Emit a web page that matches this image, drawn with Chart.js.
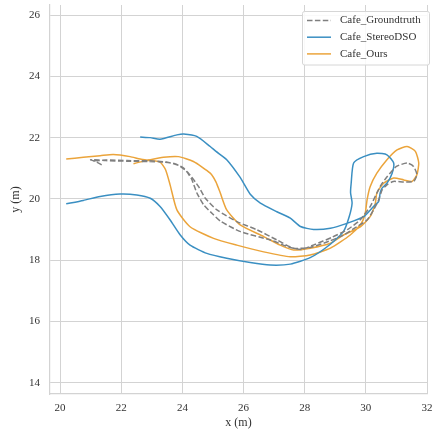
<!DOCTYPE html>
<html>
<head>
<meta charset="utf-8">
<script src="https://cdn.jsdelivr.net/npm/chart.js@4/dist/chart.umd.min.js"></script>
<style>
html,body{margin:0;padding:0;background:#fff;}
canvas{display:block;}
</style>
</head>
<body>
<canvas id="c" width="434" height="437"></canvas>
<script>
const seriesLabels = ["Cafe_Groundtruth", "Cafe_StereoDSO", "Cafe_Ours"];
const xTicks = [20, 22, 24, 26, 28, 30, 32];
const yTicks = [14, 16, 18, 20, 22, 24, 26];

const gtX = [21.36,21.2,21.0,21.5,22.2,22.9,23.4,23.75,24.05,24.3,24.47,24.7,25.0,25.25,25.9,26.9,27.5,27.9,28.3,28.9,29.4,29.8,30.14,30.36,30.5,30.7,31.0,31.35,31.56,31.67,31.56,31.24,30.9,30.69,30.53,30.42,30.25,30.04,29.7,29.27,28.8,28.2,27.64,27.09,26.44,25.78,25.13,24.75,24.53,24.2,23.9,23.5,22.9,22.2,21.5,21.1];
const gtY = [21.11,21.2,21.28,21.25,21.23,21.22,21.2,21.15,21.0,20.65,20.2,19.8,19.5,19.27,18.93,18.65,18.42,18.35,18.5,18.75,19.0,19.3,19.75,20.19,20.46,20.73,21.06,21.17,21.06,20.79,20.57,20.55,20.57,20.46,20.29,19.97,19.64,19.31,19.09,18.82,18.62,18.42,18.39,18.66,18.99,19.26,19.64,20.02,20.4,20.84,21.08,21.2,21.24,21.25,21.27,21.24];

const dsoX = [20.2,20.76,21.31,21.96,22.51,22.95,23.27,23.6,23.93,24.25,24.8,25.45,26.22,26.87,27.53,28.18,28.84,29.27,29.45,29.55,29.5,29.52,29.6,29.93,30.36,30.69,30.91,30.86,30.69,30.53,30.47,30.42,30.25,29.93,29.38,28.84,28.29,27.86,27.53,27.09,26.55,26.22,25.89,25.45,25.1,24.91,24.47,24.04,23.82,23.27,22.95,22.62];
const dsoY = [19.84,19.95,20.08,20.16,20.13,20.02,19.75,19.31,18.82,18.49,18.22,18.06,17.92,17.84,17.87,18.08,18.52,18.94,19.4,19.86,20.2,20.51,21.17,21.38,21.49,21.44,21.17,20.84,20.51,20.35,20.2,19.92,19.75,19.42,19.2,19.04,19.0,19.1,19.37,19.58,19.86,20.15,20.7,21.28,21.55,21.71,22.04,22.12,22.09,21.95,22.0,22.02];

const oursX = [20.2,20.76,21.31,21.74,22.29,22.62,22.95,23.27,23.45,23.6,23.82,24.25,25.02,25.78,26.66,27.53,28.18,28.84,29.49,29.85,29.98,30.04,30.14,30.36,30.69,31.02,31.35,31.62,31.73,31.67,31.51,31.24,30.91,30.58,30.36,30.31,30.14,29.82,29.27,28.84,28.18,27.64,27.2,26.66,25.89,25.45,25.24,25.1,24.91,24.36,23.87,23.38,22.95,22.6,22.4];
const oursY = [21.3,21.36,21.41,21.45,21.38,21.3,21.25,21.2,20.95,20.45,19.64,19.09,18.71,18.49,18.27,18.11,18.17,18.39,18.82,19.2,19.53,19.97,20.4,20.84,21.28,21.6,21.71,21.55,21.17,20.79,20.57,20.62,20.68,20.51,20.19,19.86,19.42,19.09,18.82,18.55,18.39,18.33,18.49,18.77,19.15,19.64,20.19,20.55,20.84,21.22,21.38,21.36,21.28,21.2,21.15];

const toPts = (xs, ys) => xs.map((x, i) => ({x: x, y: ys[i]}));
const SERIF = "'Liberation Serif', 'Times New Roman', serif";

const insideLegend = {
  id: 'insideLegend',
  afterDraw(chart) {
    const ctx = chart.ctx;
    const x0 = 302.5, y0 = 11.5, w = 127, h = 53.5;
    ctx.save();
    ctx.fillStyle = 'rgba(255,255,255,0.85)';
    ctx.strokeStyle = '#d6d6d6';
    ctx.lineWidth = 1;
    ctx.beginPath();
    if (ctx.roundRect) ctx.roundRect(x0, y0, w, h, 2); else ctx.rect(x0, y0, w, h);
    ctx.fill(); ctx.stroke();
    ctx.font = "11px " + SERIF;
    ctx.textBaseline = 'middle';
    ctx.fillStyle = '#333333';
    chart.data.datasets.forEach((ds, i) => {
      const cy = 20.5 + i * 16.7;
      ctx.beginPath();
      ctx.strokeStyle = ds.borderColor;
      ctx.lineWidth = 1.5;
      ctx.setLineDash(ds.borderDash || []);
      ctx.moveTo(307, cy); ctx.lineTo(331, cy);
      ctx.stroke();
      ctx.setLineDash([]);
      ctx.fillText(ds.label, 340, cy);
    });
    ctx.restore();
  }
};

const zeroPad = s => { s.paddingTop = 0; s.paddingBottom = 0; s.paddingLeft = 0; s.paddingRight = 0; };

new Chart(document.getElementById('c'), {
  type: 'scatter',
  data: {
    datasets: [
      {label: seriesLabels[0], data: toPts(gtX, gtY), borderColor: '#7f7f7f', borderDash: [5.5, 2.4], borderWidth: 1.5, showLine: true, pointRadius: 0, tension: 0.2, fill: false},
      {label: seriesLabels[1], data: toPts(dsoX, dsoY), borderColor: '#3a8fc2', borderWidth: 1.5, showLine: true, pointRadius: 0, tension: 0.2, fill: false},
      {label: seriesLabels[2], data: toPts(oursX, oursY), borderColor: '#eba43b', borderWidth: 1.5, showLine: true, pointRadius: 0, tension: 0.2, fill: false}
    ]
  },
  options: {
    responsive: false,
    animation: false,
    layout: {padding: {left: 0, right: 7, top: 5, bottom: 0}},
    plugins: {legend: {display: false}, tooltip: {enabled: false}},
    scales: {
      x: {
        type: 'linear', min: 19.67, max: 32.0,
        afterBuildTicks: s => { s.ticks = xTicks.map(v => ({value: v})); },
        afterFit: s => { s.height = 43; zeroPad(s); },
        grid: {color: '#d3d3d3', lineWidth: 1, drawTicks: false},
        border: {color: '#d3d3d3', width: 1.2},
        ticks: {padding: 7.5, color: '#333', font: {family: SERIF, size: 11}, maxRotation: 0},
        title: {display: true, text: 'x (m)', color: '#333', font: {family: SERIF, size: 12}, padding: {top: 0, bottom: 7}}
      },
      y: {
        type: 'linear', min: 13.63, max: 26.33,
        afterBuildTicks: s => { s.ticks = yTicks.map(v => ({value: v})); },
        afterFit: s => { s.width = 50; zeroPad(s); },
        grid: {color: '#d3d3d3', lineWidth: 1, drawTicks: false},
        border: {color: '#d3d3d3', width: 1.2},
        ticks: {padding: 10, color: '#333', font: {family: SERIF, size: 11}},
        title: {display: true, text: 'y (m)', color: '#333', font: {family: SERIF, size: 12}, padding: {top: 9, bottom: 0}}
      }
    }
  },
  plugins: [insideLegend]
});
</script>
</body>
</html>
